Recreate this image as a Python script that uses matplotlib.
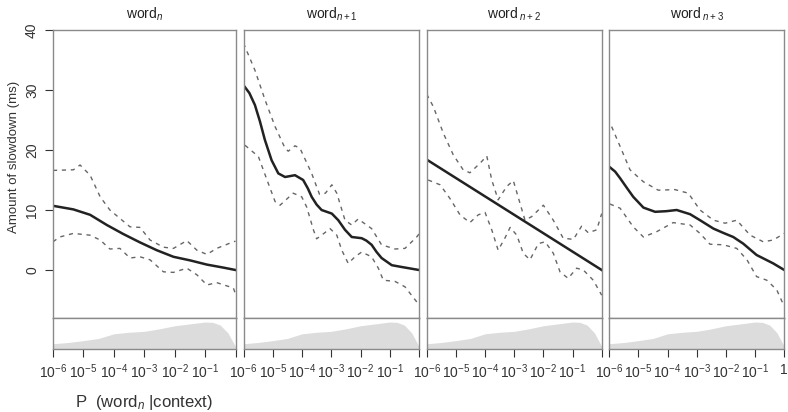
import matplotlib
matplotlib.use("Agg")
import matplotlib.pyplot as plt
import numpy as np
from matplotlib.ticker import NullLocator

plt.rcParams['font.family'] = ['Liberation Sans', 'DejaVu Sans']
plt.rcParams['mathtext.fontset'] = 'custom'
plt.rcParams['mathtext.rm'] = 'Liberation Sans'
plt.rcParams['mathtext.it'] = 'Liberation Sans:italic'
plt.rcParams['mathtext.bf'] = 'Liberation Sans:bold'

titles = ['word$_n$', 'word$_{n+1}$', 'word$_{\\ n+2}$', 'word$_{\\ n+3}$']

# log10 P(word_n | context) positions and values (ms)
fit_x = [
    [-6.0, -5.33, -4.78, -4.23, -3.69, -3.14, -2.59, -2.04, -1.49, -0.94, -0.40, 0.0],
    [-6.0, -5.80, -5.61, -5.44, -5.27, -5.04, -4.81, -4.58, -4.24, -3.96, -3.80, -3.67,
     -3.50, -3.33, -2.98, -2.76, -2.53, -2.30, -1.96, -1.80, -1.62, -1.45, -1.28, -0.93,
     -0.59, 0.0],
    [-6.0, 0.0],
    [-6.0, -5.80, -5.63, -5.40, -5.18, -4.83, -4.43, -4.05, -3.69, -3.23, -2.89, -2.43,
     -2.10, -1.75, -1.41, -0.95, -0.38, 0.0],
]
fit_y = [
    [10.7, 10.1, 9.2, 7.5, 6.0, 4.6, 3.3, 2.2, 1.6, 0.9, 0.4, 0.0],
    [30.8, 29.5, 27.5, 24.8, 21.7, 18.3, 16.1, 15.5, 15.8, 15.0, 13.6, 12.2,
     10.9, 10.0, 9.4, 8.3, 6.7, 5.5, 5.3, 4.9, 4.2, 3.0, 2.0, 0.8,
     0.5, 0.0],
    [18.4, 0.0],
    [17.2, 16.4, 15.3, 13.7, 12.2, 10.4, 9.7, 9.8, 10.0, 9.3, 8.3, 6.9,
     6.2, 5.5, 4.4, 2.5, 1.1, 0.0],
]

upper_x = [
    [-6.0, -5.33, -5.11, -4.78, -4.45, -4.13, -3.80, -3.47, -3.14, -2.81, -2.37, -2.04,
     -1.60, -1.27, -0.94, -0.62, -0.07, 0.0],
    [-6.0, -5.61, -5.26, -4.92, -4.58, -4.47, -4.24, -4.07, -3.85, -3.67, -3.40, -3.20,
     -2.98, -2.81, -2.53, -2.30, -2.08, -1.62, -1.28, -0.82, -0.48, -0.08, 0.0],
    [-6.0, -5.77, -5.43, -5.09, -4.75, -4.52, -4.17, -3.94, -3.77, -3.55, -3.26, -3.03,
     -2.80, -2.63, -2.40, -2.00, -1.66, -1.32, -0.97, -0.69, -0.46, -0.17, 0.0],
    [-5.92, -5.63, -5.29, -4.83, -4.32, -3.75, -3.29, -2.89, -2.43, -2.03, -1.63, -1.17,
     -0.72, -0.38, 0.0],
]
upper_y = [
    [16.6, 16.7, 17.5, 15.8, 12.2, 10.0, 8.6, 7.2, 7.1, 5.0, 3.8, 3.6,
     4.9, 3.3, 2.6, 3.6, 4.7, 4.8],
    [37.8, 33.3, 28.3, 23.9, 20.3, 19.8, 20.7, 20.3, 18.0, 16.1, 12.6, 12.8,
     14.2, 12.8, 8.3, 7.5, 8.5, 6.9, 4.2, 3.5, 3.6, 5.5, 6.0],
    [29.3, 27.2, 22.8, 19.2, 16.7, 16.2, 17.8, 19.0, 15.0, 11.7, 13.9, 14.9,
     11.1, 8.3, 8.9, 10.8, 8.3, 5.3, 5.1, 7.3, 6.2, 6.7, 9.4],
    [23.9, 20.6, 16.7, 14.7, 13.3, 13.4, 12.8, 10.0, 8.3, 7.8, 8.3, 5.8,
     4.7, 5.0, 6.1],
]

lower_x = [
    [-6.0, -5.78, -5.33, -4.78, -4.45, -4.13, -3.80, -3.47, -3.14, -2.81, -2.37, -2.04,
     -1.60, -1.27, -0.94, -0.62, -0.07, 0.0],
    [-5.95, -5.49, -5.15, -4.92, -4.75, -4.30, -4.01, -3.84, -3.61, -3.50, -3.33, -3.04,
     -2.81, -2.64, -2.42, -2.19, -1.96, -1.62, -1.39, -1.22, -0.82, -0.48, -0.08, 0.0],
    [-5.95, -5.54, -5.20, -4.86, -4.52, -4.23, -4.00, -3.77, -3.55, -3.32, -3.14, -2.91,
     -2.69, -2.46, -2.17, -1.94, -1.66, -1.43, -1.15, -0.86, -0.63, -0.29, 0.0],
    [-5.98, -5.63, -5.18, -4.83, -4.37, -3.81, -3.23, -2.89, -2.55, -2.09, -1.63, -1.28,
     -0.95, -0.60, -0.26, 0.0],
]
lower_y = [
    [4.7, 5.5, 6.1, 5.8, 5.0, 3.5, 3.6, 2.0, 2.2, 1.7, -0.3, -0.4,
     0.3, -0.8, -2.5, -2.1, -3.0, -4.0],
    [20.8, 18.9, 14.4, 11.4, 10.8, 12.8, 12.2, 10.5, 6.7, 5.2, 5.8, 6.9,
     5.8, 3.3, 1.1, 2.2, 3.0, 2.2, 0.3, -1.7, -1.9, -2.8, -5.3, -5.8],
    [15.0, 14.2, 11.9, 9.2, 7.9, 9.2, 9.6, 6.7, 3.3, 5.3, 7.1, 5.8,
     2.8, 1.7, 4.4, 4.7, 2.8, -0.3, -1.4, 0.3, 0.0, -1.7, -4.2],
    [11.0, 10.3, 7.2, 5.5, 6.4, 7.9, 7.5, 6.1, 4.3, 4.2, 3.6, 1.7,
     -1.1, -1.7, -3.3, -6.1],
]

# distribution of the predictor (relative height), same for every panel
dens_x = [-6.0, -5.5, -5.0, -4.5, -4.0, -3.5, -3.0, -2.5, -2.0, -1.5, -1.0, -0.75,
          -0.5, -0.25, 0.0]
dens_y = [0.17, 0.21, 0.27, 0.34, 0.49, 0.54, 0.57, 0.65, 0.75, 0.81, 0.87, 0.86,
          0.77, 0.52, 0.08]

tick_exp = [-6, -5, -4, -3, -2, -1, 0]

fig = plt.figure(figsize=(7.88, 4.12), dpi=100)
W, H = 788.0, 412.0
lefts = [53, 243.5, 426.7, 609.3]
rights = [235.5, 419, 601.7, 784.3]
top_px, sep_px, bot_px = 30, 318, 349
frame = '#8a8a8a'
dash_col = '#666666'

for i in range(4):
    l = lefts[i] / W
    w = (rights[i] - lefts[i]) / W
    ax = fig.add_axes([l, 1 - sep_px / H, w, (sep_px - top_px) / H])
    axd = fig.add_axes([l, 1 - bot_px / H, w, (bot_px - sep_px) / H])

    ax.plot(10.0 ** np.array(upper_x[i]), upper_y[i], color=dash_col, lw=1.0,
            ls=(0, (3.0, 3.4)))
    ax.plot(10.0 ** np.array(lower_x[i]), lower_y[i], color=dash_col, lw=1.0,
            ls=(0, (3.0, 3.4)))
    ax.plot(10.0 ** np.array(fit_x[i]), fit_y[i], color='#222222', lw=1.8)

    ax.set_xscale('log')
    ax.set_xlim(1e-6, 1)
    ax.set_ylim(-8, 40)
    ax.set_xticks([])
    ax.xaxis.set_minor_locator(NullLocator())
    ax.set_title(titles[i], fontsize=10, pad=8, color='#222222')
    if i == 0:
        ax.set_yticks([0, 10, 20, 30, 40])
        ax.set_yticklabels(['0', '10', '20', '30', '40'], rotation=90, va='center',
                           fontsize=10, color='#333333')
        ax.tick_params(axis='y', length=6, width=0.8, pad=4, color='#333333')
    else:
        ax.set_yticks([])

    axd.fill_between(10.0 ** np.array(dens_x), 0, dens_y, color='#dcdcdc', lw=0)
    axd.set_xscale('log')
    axd.set_xlim(1e-6, 1)
    axd.set_ylim(0, 1)
    axd.set_yticks([])
    axd.set_xticks([10.0 ** e for e in tick_exp])
    axd.xaxis.set_minor_locator(NullLocator())
    labels = ['$10^{%d}$' % e for e in tick_exp[:-1]]
    labels.append('1' if i == 3 else '')
    axd.set_xticklabels(labels, fontsize=10, color='#333333')
    axd.tick_params(axis='x', length=6, width=0.8, pad=4, color='#333333')

    for a in (ax, axd):
        for s in a.spines.values():
            s.set_color(frame)
            s.set_linewidth(1.0)

fig.text(14 / W, 1 - 157 / H, 'Amount of slowdown (ms)', rotation=90, ha='center',
         va='center', fontsize=9.5, color='#333333')
fig.text(144 / W, 1 - 402 / H, 'P  (word$_n$ |context)', ha='center', va='center',
         fontsize=12, color='#333333')

fig.savefig('out.png', dpi=100)
